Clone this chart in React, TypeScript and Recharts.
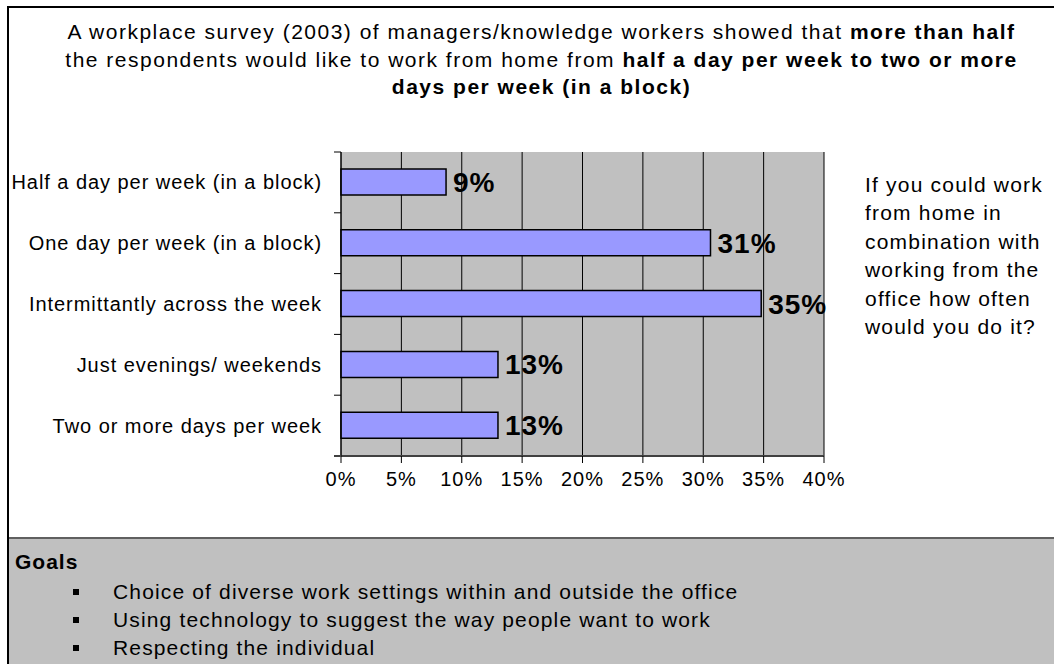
import { BarChart, Bar, XAxis, YAxis, CartesianGrid, LabelList } from "recharts";

const categories = [
  "Half a day per week (in a block)",
  "One day per week (in a block)",
  "Intermittantly across the week",
  "Just evenings/ weekends",
  "Two or more days per week",
];
const shares = [8.7, 30.6, 34.8, 13.0, 13.0];
const xTicks = [0, 5, 10, 15, 20, 25, 30, 35, 40];
const goals = [
  "Choice of diverse work settings within and outside the office",
  "Using technology to suggest the way people want to work",
  "Respecting the individual",
];
const questionLines = [
  "If you could work",
  "from home in",
  "combination with",
  "working from the",
  "office how often",
  "would you do it?",
];

const data = categories.map((name, i) => ({ name, share: shares[i] }));

const W = 1054;
const H = 664;
const PLOT_LEFT = 341;
const PLOT_RIGHT = 824;
const PLOT_TOP = 152;
const PLOT_BOTTOM = 456;
const X_AXIS_H = 40;
const FONT = "'Liberation Sans', Arial, Helvetica, sans-serif";

const CategoryTick = (props: any) => {
  const { y, payload, index } = props;
  const band = (PLOT_BOTTOM - PLOT_TOP) / categories.length;
  const top = y - band / 2;
  return (
    <g>
      <line x1={PLOT_LEFT - 7} x2={PLOT_LEFT} y1={top} y2={top} stroke="#000" strokeWidth={1} />
      {index === categories.length - 1 && (
        <line x1={PLOT_LEFT - 7} x2={PLOT_LEFT} y1={y + band / 2} y2={y + band / 2} stroke="#404040" strokeWidth={2} />
      )}
      <text
        x={PLOT_LEFT - 19}
        y={y}
        textAnchor="end"
        dominantBaseline="central"
        fontFamily={FONT}
        fontSize={20}
        letterSpacing={0.95}
        fill="#000"
      >
        {payload.value}
      </text>
    </g>
  );
};

const App = () => {
  return (
    <div
      style={{
        position: "absolute",
        left: 0,
        top: 0,
        width: W,
        height: H,
        overflow: "hidden",
        background: "#fff",
        fontFamily: FONT,
        color: "#000",
      }}
    >
      {/* frame + goals panel */}
      <div style={{ position: "absolute", left: 7, top: 6, width: 1100, height: 700, border: "2px solid #000" }} />
      <div style={{ position: "absolute", left: 9, top: 539, width: 1100, height: 200, background: "#c0c0c0" }} />
      <div style={{ position: "absolute", left: 9, top: 537, width: 1100, height: 2, background: "#606060" }} />

      <div style={{ position: "absolute", left: 0, top: 0 }}>
        <BarChart
          width={W}
          height={H}
          data={data}
          layout="vertical"
          barSize={26}
          margin={{ top: PLOT_TOP, right: W - PLOT_RIGHT, bottom: H - PLOT_BOTTOM - X_AXIS_H, left: 0 }}
        >
          <CartesianGrid horizontal={false} stroke="#000" strokeWidth={1} fill="#c0c0c0" fillOpacity={1} />
          <XAxis
            type="number"
            domain={[0, 40]}
            ticks={xTicks}
            interval={0}
            height={X_AXIS_H}
            tickFormatter={(v: number) => `${v}%`}
            axisLine={{ stroke: "#404040", strokeWidth: 2 }}
            tickLine={{ stroke: "#000" }}
            tickSize={7}
            tickMargin={9}
            tick={{ fill: "#000", fontSize: 20, fontFamily: FONT, letterSpacing: 1 }}
          />
          <YAxis
            type="category"
            dataKey="name"
            width={PLOT_LEFT}
            axisLine={{ stroke: "#000" }}
            tickLine={false}
            interval={0}
            tick={<CategoryTick />}
          />
          <Bar dataKey="share" fill="#9999ff" stroke="#000" strokeWidth={1.5} isAnimationActive={false}>
            <LabelList
              dataKey="share"
              position="right"
              offset={7}
              formatter={(v: any) => `${Math.round(Number(v))}%`}
              style={{ fontSize: 28, fontWeight: 700, fontFamily: FONT, fill: "#000", letterSpacing: 1 }}
            />
          </Bar>
        </BarChart>
      </div>

      {/* title */}
      <div
        style={{
          position: "absolute",
          left: 0,
          top: 18,
          width: 1083,
          textAlign: "center",
          fontSize: 21,
          letterSpacing: 1.5,
          lineHeight: "27.5px",
        }}
      >
        A workplace survey (2003) of managers/knowledge workers showed that <b>more than half</b>
        <br />
        the respondents would like to work from home from <b>half a day per week to two or more</b>
        <br />
        <b>days per week (in a block)</b>
      </div>

      {/* question at right */}
      <div
        style={{
          position: "absolute",
          left: 865,
          top: 171,
          fontSize: 21,
          letterSpacing: 1.2,
          lineHeight: "28.4px",
          whiteSpace: "nowrap",
        }}
      >
        {questionLines.map((l) => (
          <div key={l}>{l}</div>
        ))}
      </div>

      {/* goals */}
      <div style={{ position: "absolute", left: 15, top: 548, fontSize: 21, fontWeight: 700, letterSpacing: 1, lineHeight: "28px" }}>
        Goals
      </div>
      {goals.map((g, i) => (
        <div key={g}>
          <div style={{ position: "absolute", left: 73, top: 589 + i * 28, width: 6, height: 6, background: "#000" }} />
          <div
            style={{
              position: "absolute",
              left: 113,
              top: 578 + i * 28,
              fontSize: 21,
              letterSpacing: 1.15,
              lineHeight: "28px",
              whiteSpace: "nowrap",
            }}
          >
            {g}
          </div>
        </div>
      ))}
    </div>
  );
};

export default App;
